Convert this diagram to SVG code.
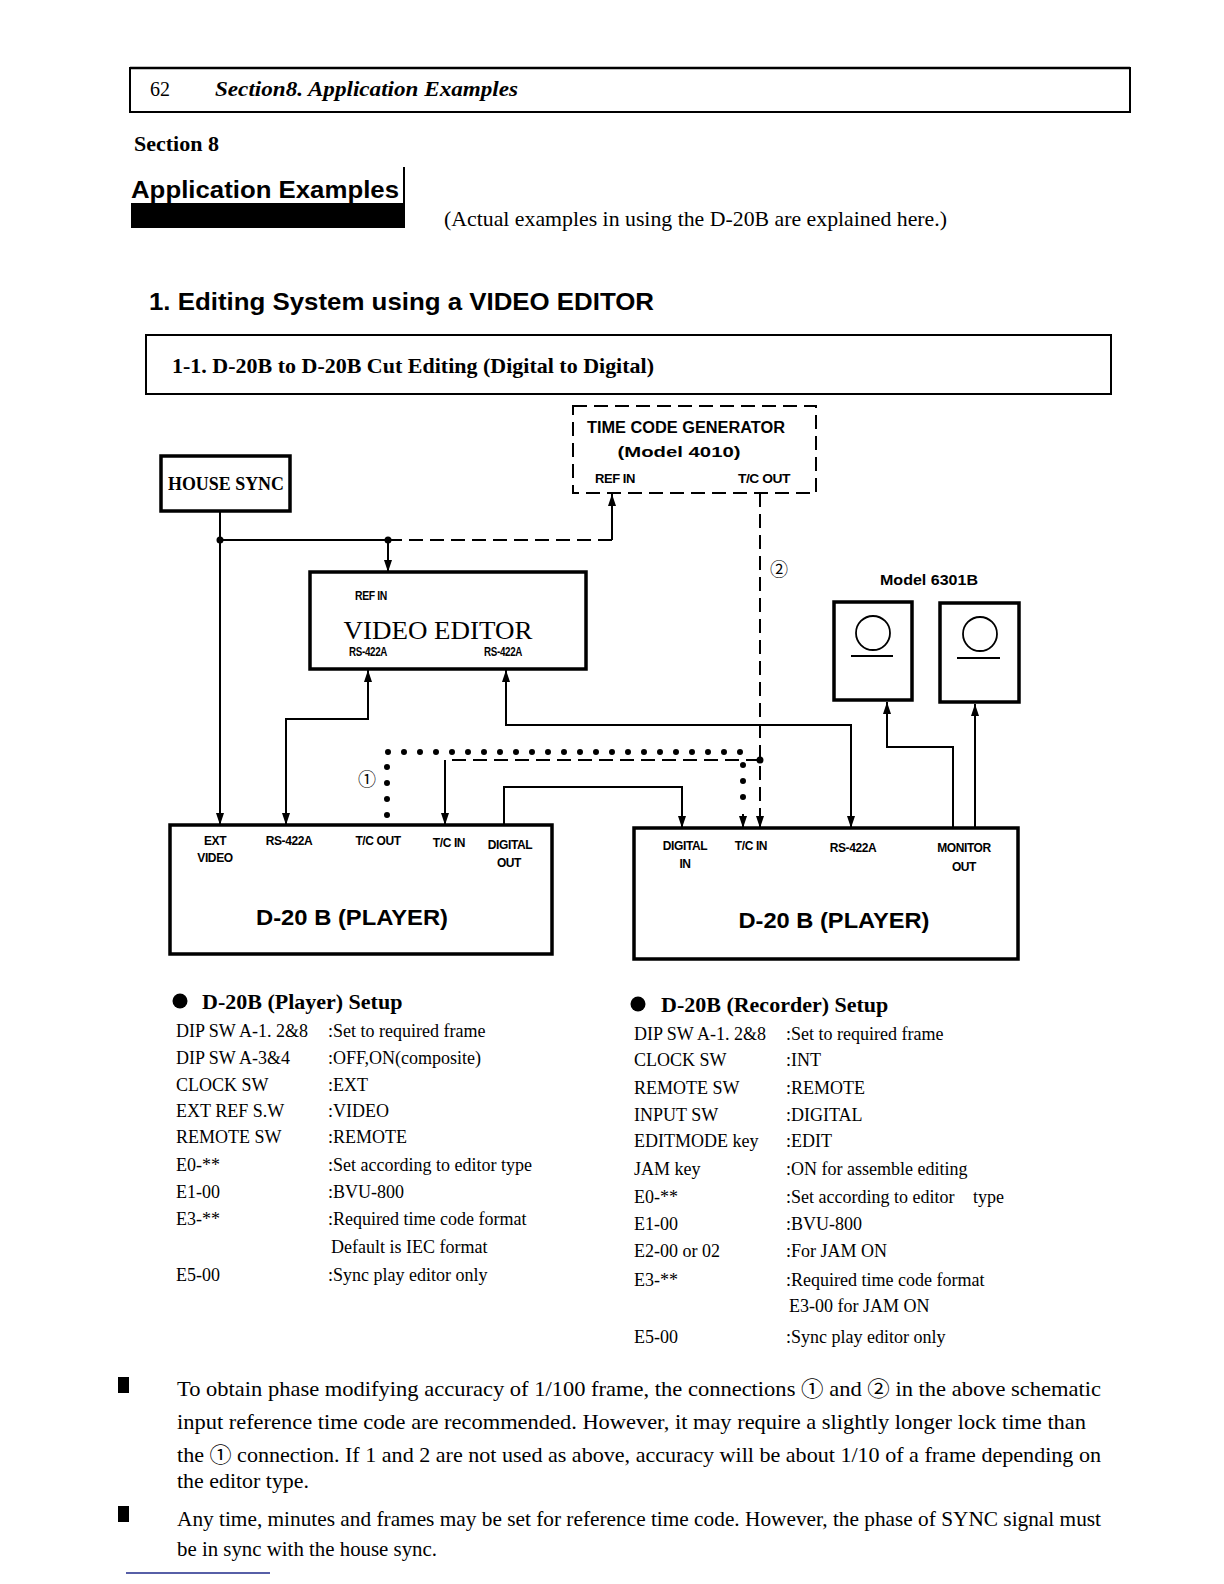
<svg xmlns="http://www.w3.org/2000/svg" width="1224" height="1584" viewBox="0 0 1224 1584">
<style>
.bg{fill:#fff}
.ln{fill:none;stroke:#000;stroke-width:2}
.dash{fill:none;stroke:#000;stroke-width:2;stroke-dasharray:14 7}
.dots{fill:none;stroke:#000;stroke-width:6;stroke-linecap:round;stroke-dasharray:0 16}
.box{fill:#fff;stroke:#000;stroke-width:3.5}
.sans{font-family:"Liberation Sans",Arial,sans-serif;font-weight:bold;fill:#000}
.serif{font-family:"Liberation Serif","Noto Sans CJK JP",serif;fill:#000}
.lbl{font-family:"Liberation Sans",Arial,sans-serif;font-weight:bold;font-size:12px;fill:#000;text-anchor:middle;letter-spacing:-0.4px}
.row{font-family:"Liberation Serif","Noto Sans CJK JP",serif;font-size:18px;fill:#000}
.para{font-family:"Liberation Serif","Noto Sans CJK JP",serif;font-size:21px;fill:#000}
</style>
<defs>
<marker id="ar" markerUnits="userSpaceOnUse" markerWidth="13" markerHeight="8" refX="12" refY="4" orient="auto-start-reverse"><path d="M0,0 L12,4 L0,8 z" fill="#000"/></marker>
</defs>
<rect class="bg" x="0" y="0" width="1224" height="1584"/>

<g id="page-header">
<path d="M130 68 H1130 V112 H130 Z" fill="none" stroke="#000" stroke-width="2"/>
<line x1="130" y1="68" x2="1130" y2="68" stroke="#000" stroke-width="2.5"/>
<text class="serif" x="150" y="96" font-size="20">62</text>
<text class="serif" x="215" y="96" font-size="20" font-weight="bold" font-style="italic" textLength="303" lengthAdjust="spacingAndGlyphs">Section8. Application Examples</text>
</g>

<g id="titles">
<text class="serif" x="134" y="151" font-size="21" font-weight="bold" textLength="85" lengthAdjust="spacingAndGlyphs">Section 8</text>
<rect x="131" y="203" width="274" height="25" fill="#000"/>
<line x1="404" y1="167" x2="404" y2="228" stroke="#000" stroke-width="2"/>
<text class="sans" x="131" y="198" font-size="24" textLength="268" lengthAdjust="spacingAndGlyphs">Application Examples</text>
<text class="serif" x="444" y="226" font-size="21" textLength="503" lengthAdjust="spacingAndGlyphs">(Actual examples in using the D-20B are explained here.)</text>
<text class="sans" x="149" y="310" font-size="24" textLength="505" lengthAdjust="spacingAndGlyphs">1. Editing System using a VIDEO EDITOR</text>
<path d="M146 335 H1111 V394 H146 Z" fill="none" stroke="#000" stroke-width="2"/>
<text class="serif" x="172" y="373" font-size="21" font-weight="bold" textLength="482" lengthAdjust="spacingAndGlyphs">1-1. D-20B to D-20B Cut Editing (Digital to Digital)</text>
</g>

<g id="connectors">
<path class="ln" d="M220 511 V825" marker-end="url(#ar)"/>
<path class="ln" d="M220 540 H388"/>
<path class="dash" d="M388 540 H612"/>
<path class="ln" d="M612 540 V494" marker-end="url(#ar)"/>
<path class="ln" d="M388 540 V572" marker-end="url(#ar)"/>
<circle cx="220" cy="540" r="3.5" fill="#000"/>
<circle cx="388" cy="540" r="3.5" fill="#000"/>
<path class="ln" d="M368 670 V719 H286 V825" marker-start="url(#ar)" marker-end="url(#ar)"/>
<path class="ln" d="M506 670 V725 H851 V828" marker-start="url(#ar)" marker-end="url(#ar)"/>
<path class="dash" d="M760 493 V820"/>
<path class="ln" d="M760 812 V828" marker-end="url(#ar)"/>
<circle cx="760" cy="760" r="3.5" fill="#000"/>
<path class="dash" d="M760 760 H445"/>
<path class="ln" d="M445 760 V825" marker-end="url(#ar)"/>
<path class="ln" d="M504 825 V787 H682 V828" marker-end="url(#ar)"/>
<path class="dots" d="M387 815 V752 H743 V812"/>
<path class="ln" d="M743 814 V828" marker-end="url(#ar)"/>
<path class="ln" d="M953 828 V747 H887 V702" marker-end="url(#ar)"/>
<path class="ln" d="M975 828 V704" marker-end="url(#ar)"/>
<text class="serif" x="367" y="786" font-size="18" text-anchor="middle">①</text>
<text class="serif" x="779" y="576" font-size="18" text-anchor="middle">②</text>
</g>

<g id="time-code-generator">
<path class="dash" d="M573 406 H816 V493 H573 Z"/>
<text class="sans" x="686" y="433" font-size="16" text-anchor="middle" textLength="198" lengthAdjust="spacingAndGlyphs">TIME CODE GENERATOR</text>
<text class="sans" x="679" y="457" font-size="15" text-anchor="middle" textLength="123" lengthAdjust="spacingAndGlyphs">(Model 4010)</text>
<text class="lbl" x="615" y="483" textLength="40" lengthAdjust="spacingAndGlyphs">REF IN</text>
<text class="lbl" x="764" y="483" textLength="52" lengthAdjust="spacingAndGlyphs">T/C OUT</text>
</g>

<g id="house-sync">
<rect class="box" x="161" y="456" width="129" height="55"/>
<text class="serif" x="226" y="490" font-size="18" font-weight="bold" text-anchor="middle" textLength="116" lengthAdjust="spacingAndGlyphs">HOUSE SYNC</text>
</g>

<g id="video-editor">
<rect class="box" x="310" y="572" width="276" height="97"/>
<text class="lbl" x="371" y="600" font-size="10" textLength="32" lengthAdjust="spacingAndGlyphs">REF IN</text>
<text class="serif" x="438" y="639" font-size="26" text-anchor="middle" textLength="189" lengthAdjust="spacingAndGlyphs">VIDEO EDITOR</text>
<text class="lbl" x="368" y="656" font-size="10" textLength="38" lengthAdjust="spacingAndGlyphs">RS-422A</text>
<text class="lbl" x="503" y="656" font-size="10" textLength="38" lengthAdjust="spacingAndGlyphs">RS-422A</text>
</g>

<g id="monitors">
<text class="sans" x="929" y="585" font-size="14" text-anchor="middle" textLength="98" lengthAdjust="spacingAndGlyphs">Model 6301B</text>
<g id="monitor-1">
<rect class="box" x="834" y="602" width="78" height="98"/>
<circle cx="873" cy="633" r="17" fill="none" stroke="#000" stroke-width="1.8"/>
<line x1="851" y1="656" x2="893" y2="656" stroke="#000" stroke-width="1.8"/>
</g>
<g id="monitor-2">
<rect class="box" x="940" y="603" width="79" height="99"/>
<circle cx="980" cy="634" r="17" fill="none" stroke="#000" stroke-width="1.8"/>
<line x1="957" y1="658" x2="1000" y2="658" stroke="#000" stroke-width="1.8"/>
</g>
</g>

<g id="player">
<rect class="box" x="170" y="825" width="382" height="129"/>
<text class="lbl" x="215" y="845">EXT</text>
<text class="lbl" x="215" y="862">VIDEO</text>
<text class="lbl" x="289" y="845">RS-422A</text>
<text class="lbl" x="378" y="845">T/C OUT</text>
<text class="lbl" x="449" y="847">T/C IN</text>
<text class="lbl" x="510" y="849">DIGITAL</text>
<text class="lbl" x="509" y="867">OUT</text>
<text class="sans" x="352" y="925" font-size="22" text-anchor="middle" textLength="192" lengthAdjust="spacingAndGlyphs">D-20 B (PLAYER)</text>
</g>

<g id="recorder">
<rect class="box" x="634" y="828" width="384" height="131"/>
<text class="lbl" x="685" y="850">DIGITAL</text>
<text class="lbl" x="685" y="868">IN</text>
<text class="lbl" x="751" y="850">T/C IN</text>
<text class="lbl" x="853" y="852">RS-422A</text>
<text class="lbl" x="964" y="852">MONITOR</text>
<text class="lbl" x="964" y="871">OUT</text>
<text class="sans" x="834" y="928" font-size="22" text-anchor="middle" textLength="191" lengthAdjust="spacingAndGlyphs">D-20 B (PLAYER)</text>
</g>

<g id="player-setup">
<circle cx="180" cy="1001" r="7.5" fill="#000"/>
<text class="serif" x="202" y="1009" font-size="22" font-weight="bold">D-20B (Player) Setup</text>
<text class="row" x="176" y="1037">DIP SW A-1. 2&amp;8</text><text class="row" x="328" y="1037">:Set to required frame</text>
<text class="row" x="176" y="1064">DIP SW A-3&amp;4</text><text class="row" x="328" y="1064">:OFF,ON(composite)</text>
<text class="row" x="176" y="1091">CLOCK SW</text><text class="row" x="328" y="1091">:EXT</text>
<text class="row" x="176" y="1117">EXT REF S.W</text><text class="row" x="328" y="1117">:VIDEO</text>
<text class="row" x="176" y="1143">REMOTE SW</text><text class="row" x="328" y="1143">:REMOTE</text>
<text class="row" x="176" y="1171">E0-**</text><text class="row" x="328" y="1171">:Set according to editor type</text>
<text class="row" x="176" y="1198">E1-00</text><text class="row" x="328" y="1198">:BVU-800</text>
<text class="row" x="176" y="1225">E3-**</text><text class="row" x="328" y="1225">:Required time code format</text>
<text class="row" x="331" y="1253">Default is IEC format</text>
<text class="row" x="176" y="1281">E5-00</text><text class="row" x="328" y="1281">:Sync play editor only</text>
</g>

<g id="recorder-setup">
<circle cx="638" cy="1004" r="7.5" fill="#000"/>
<text class="serif" x="661" y="1012" font-size="22" font-weight="bold">D-20B (Recorder) Setup</text>
<text class="row" x="634" y="1040">DIP SW A-1. 2&amp;8</text><text class="row" x="786" y="1040">:Set to required frame</text>
<text class="row" x="634" y="1066">CLOCK SW</text><text class="row" x="786" y="1066">:INT</text>
<text class="row" x="634" y="1094">REMOTE SW</text><text class="row" x="786" y="1094">:REMOTE</text>
<text class="row" x="634" y="1121">INPUT SW</text><text class="row" x="786" y="1121">:DIGITAL</text>
<text class="row" x="634" y="1147">EDITMODE key</text><text class="row" x="786" y="1147">:EDIT</text>
<text class="row" x="634" y="1175">JAM key</text><text class="row" x="786" y="1175">:ON for assemble editing</text>
<text class="row" x="634" y="1203">E0-**</text><text class="row" x="786" y="1203">:Set according to editor</text><text class="row" x="973" y="1203">type</text>
<text class="row" x="634" y="1230">E1-00</text><text class="row" x="786" y="1230">:BVU-800</text>
<text class="row" x="634" y="1257">E2-00 or 02</text><text class="row" x="786" y="1257">:For JAM ON</text>
<text class="row" x="634" y="1286">E3-**</text><text class="row" x="786" y="1286">:Required time code format</text>
<text class="row" x="789" y="1312">E3-00 for JAM ON</text>
<text class="row" x="634" y="1343">E5-00</text><text class="row" x="786" y="1343">:Sync play editor only</text>
</g>

<g id="notes">
<rect x="118" y="1377" width="11" height="16" fill="#000"/>
<text class="para" x="177" y="1396" textLength="924" lengthAdjust="spacingAndGlyphs">To obtain phase modifying accuracy of 1/100 frame, the connections ① and ② in the above schematic</text>
<text class="para" x="177" y="1429" textLength="909" lengthAdjust="spacingAndGlyphs">input reference time code are recommended. However, it may require a slightly longer lock time than</text>
<text class="para" x="177" y="1462" textLength="924" lengthAdjust="spacingAndGlyphs">the ① connection. If 1 and 2 are not used as above, accuracy will be about 1/10 of a frame depending on</text>
<text class="para" x="177" y="1488" textLength="132" lengthAdjust="spacingAndGlyphs">the editor type.</text>
<rect x="118" y="1506" width="11" height="16" fill="#000"/>
<text class="para" x="177" y="1526" textLength="924" lengthAdjust="spacingAndGlyphs">Any  time, minutes and frames may be set for reference time code.  However, the phase of SYNC signal must</text>
<text class="para" x="177" y="1556" textLength="260" lengthAdjust="spacingAndGlyphs">be in sync with the house sync.</text>
<line x1="126" y1="1573" x2="270" y2="1573" stroke="#1f2a8a" stroke-width="1.5"/>
</g>
</svg>
